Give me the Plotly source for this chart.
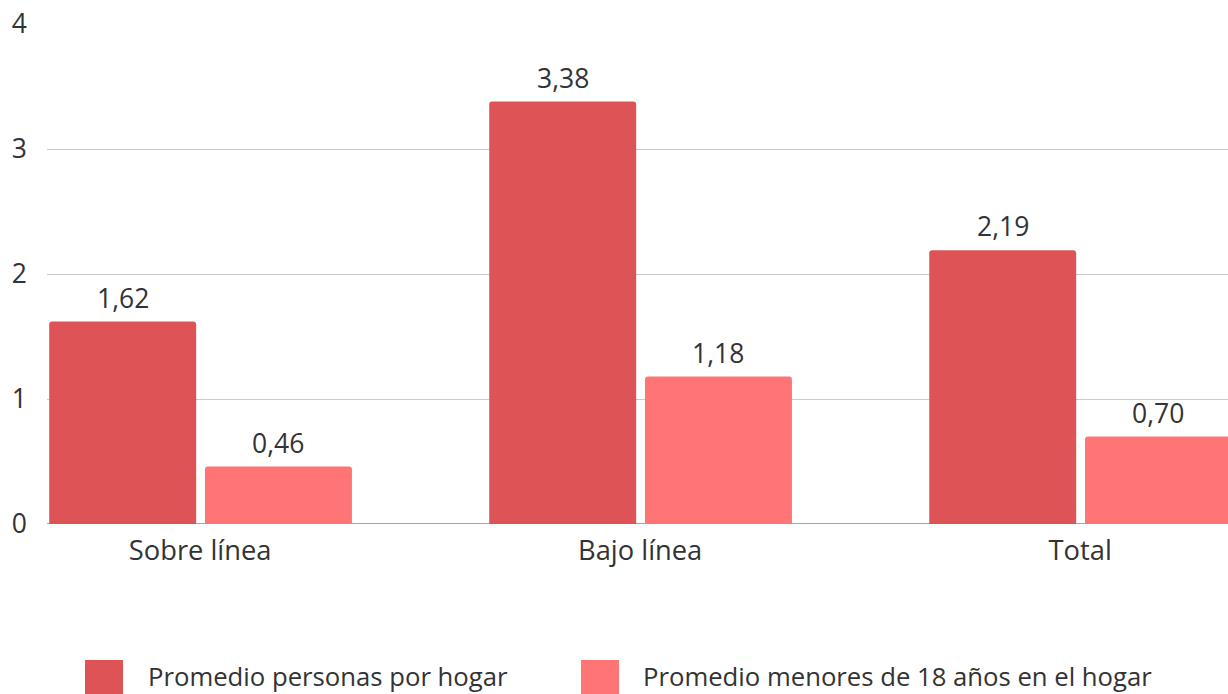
import plotly.graph_objects as go

categories = ["Sobre línea", "Bajo línea", "Total"]
personas = [1.62, 3.38, 2.19]
menores = [0.46, 1.18, 0.70]
series_names = ["Promedio personas por hogar", "Promedio menores de 18 años en el hogar"]
colors = ["#de5356", "#ff7474"]
y_ticks = [0, 1, 2, 3, 4]

FONT = "Open Sans"
TXT = "#333333"

def fmt(v):
    return f"{v:.2f}".replace(".", ",")

xs = list(range(len(categories)))
fig = go.Figure()
for vals, name, col, off in [(personas, series_names[0], colors[0], -0.343),
                             (menores, series_names[1], colors[1], 0.011)]:
    fig.add_trace(go.Bar(
        x=xs, y=vals, name=name, marker=dict(color=col, cornerradius=3, line=dict(width=0)),
        width=0.334, offset=off, showlegend=False,
    ))
    for xi, v in zip(xs, vals):
        fig.add_annotation(x=xi + off + 0.167, y=v, xref="x", yref="y", text=fmt(v),
                           showarrow=False, yanchor="bottom", yshift=4,
                           font=dict(family=FONT, size=26.5, color=TXT))

fig.update_layout(
    width=1228, height=694,
    margin=dict(l=47, r=0, t=24, b=170),
    plot_bgcolor="white", paper_bgcolor="white",
    barmode="overlay",
    font=dict(family=FONT, size=26, color=TXT),
    xaxis=dict(range=[-0.348, 2.336], tickvals=xs, ticktext=categories,
               showgrid=False, zeroline=False, showline=False, ticks="",
               tickfont=dict(family=FONT, size=27.3, color=TXT), ticklabelstandoff=8),
    yaxis=dict(range=[0, 4], tickvals=y_ticks, showgrid=True, gridcolor="#cccccc", gridwidth=1,
               zeroline=False, showline=False, ticks="",
               tickfont=dict(family=FONT, size=26.5, color=TXT), ticklabelstandoff=19),
)

# baseline at zero
fig.add_shape(type="line", xref="paper", yref="y", x0=0, x1=1, y0=0, y1=0,
              line=dict(color="#888888", width=1.5), layer="below")

# manual legend
legend_items = [(85, 146), (581, 641)]
for (sq_x, tx_x), name, col in zip(legend_items, series_names, colors):
    fig.add_shape(type="rect", xref="paper", yref="paper",
                  x0=(sq_x - 47) / 1181, x1=(sq_x + 38 - 47) / 1181,
                  y0=-(698 - 524) / 500, y1=-(660 - 524) / 500,
                  fillcolor=col, line=dict(width=0))
    fig.add_annotation(xref="paper", yref="paper", x=(tx_x - 47) / 1181, y=-(676 - 524) / 500,
                       text=name, showarrow=False, xanchor="left", yanchor="middle",
                       font=dict(family=FONT, size=25.7, color=TXT))

fig.write_html("out.html")
